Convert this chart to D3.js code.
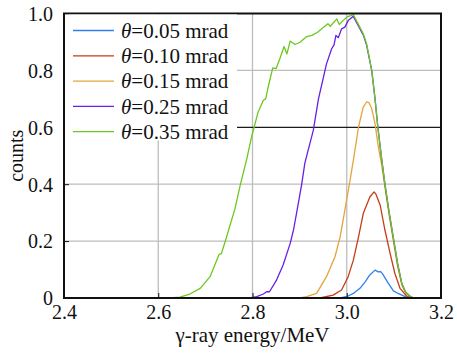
<!DOCTYPE html>
<html>
<head>
<meta charset="utf-8">
<script src="https://cdn.jsdelivr.net/npm/d3@7"></script>
<style>
  body { margin: 0; background: #fff; }
  svg { display: block; }
</style>
</head>
<body>
<div></div>
<script>
// Data: [energy MeV, counts]
var theta05 = [[2.600,0],[2.986,0],[3.003,0.007],[3.014,0.016],[3.028,0.034],[3.039,0.057],[3.049,0.081],
  [3.060,0.098],[3.067,0.092],[3.072,0.093],[3.076,0.085],[3.088,0.052],[3.099,0.025],[3.109,0.016],
  [3.124,0.005],[3.134,0],[3.150,0]];
var theta10 = [[2.600,0],[2.943,0],[2.971,0.010],[2.989,0.028],[3.003,0.075],[3.014,0.133],[3.025,0.215],
  [3.035,0.297],[3.042,0.326],[3.049,0.355],[3.058,0.373],[3.062,0.365],[3.071,0.326],[3.081,0.239],
  [3.092,0.157],[3.102,0.087],[3.113,0.034],[3.127,0.007],[3.138,0],[3.150,0]];
var theta15 = [[2.600,0],[2.900,0],[2.915,0.005],[2.936,0.016],[2.957,0.075],[2.975,0.145],[2.986,0.215],
  [2.996,0.309],[3.007,0.414],[3.014,0.484],[3.025,0.601],[3.035,0.671],[3.042,0.689],[3.047,0.687],
  [3.053,0.666],[3.060,0.613],[3.067,0.531],[3.074,0.47],[3.081,0.39],[3.090,0.29],[3.100,0.19],
  [3.108,0.11],[3.117,0.045],[3.125,0.018],[3.135,0.004],[3.142,0],[3.150,0]];
var theta25 = [[2.600,0],[2.795,0],[2.809,0.005],[2.823,0.014],[2.830,0.022],[2.836,0.022],[2.851,0.063],
  [2.865,0.116],[2.880,0.192],[2.887,0.239],[2.894,0.303],[2.904,0.396],[2.911,0.473],[2.918,0.519],
  [2.929,0.589],[2.940,0.700],[2.957,0.823],[2.968,0.876],[2.973,0.890],[2.977,0.923],[2.982,0.915],
  [2.989,0.946],[2.996,0.952],[3.003,0.975],[3.014,0.990],[3.035,0.925],[3.042,0.89],[3.053,0.80],
  [3.060,0.70],[3.066,0.60],[3.074,0.49],[3.081,0.40],[3.090,0.30],[3.100,0.20],[3.108,0.12],
  [3.117,0.05],[3.125,0.02],[3.135,0.005],[3.142,0],[3.150,0]];
var theta35 = [[2.600,0],[2.625,0],[2.646,0.003],[2.667,0.014],[2.689,0.034],[2.710,0.075],[2.720,0.116],
  [2.729,0.153],[2.734,0.156],[2.744,0.209],[2.763,0.315],[2.773,0.390],[2.788,0.490],[2.798,0.566],
  [2.812,0.654],[2.823,0.695],[2.828,0.700],[2.834,0.747],[2.843,0.809],[2.850,0.806],[2.858,0.841],
  [2.867,0.884],[2.873,0.858],[2.880,0.903],[2.890,0.891],[2.901,0.899],[2.915,0.919],[2.926,0.923],
  [2.938,0.934],[2.947,0.946],[2.960,0.964],[2.965,0.955],[2.979,0.981],[2.984,0.961],[2.992,0.975],
  [3.000,0.987],[3.014,0.996],[3.035,0.929],[3.042,0.894],[3.053,0.800],[3.060,0.70],[3.066,0.60],
  [3.074,0.49],[3.081,0.40],[3.090,0.30],[3.100,0.20],[3.108,0.12],[3.117,0.05],[3.125,0.02],
  [3.135,0.005],[3.142,0],[3.150,0]];

var seriesData = [theta05, theta10, theta15, theta25, theta35];
var seriesNames = ["0.05", "0.10", "0.15", "0.25", "0.35"];
var seriesColors = ["#2f80ea", "#c53d16", "#e3a43c", "#6620e6", "#6cc820"];

var xTicks = [2.4, 2.6, 2.8, 3.0, 3.2];
var yTicks = [0, 0.2, 0.4, 0.6, 0.8, 1.0];

let width = 457;
let height = 353;
let padLeft = 64, padRight = 441, padTop = 13.5, padBottom = 298;
let serif = "'Liberation Serif', 'Times New Roman', serif";

let svg = d3.select("div").append("svg")
  .attr("width", width)
  .attr("height", height)
  .attr("font-family", serif);

let x = d3.scaleLinear().domain([2.4, 3.2]).range([padLeft, padRight]);
let y = d3.scaleLinear().domain([0, 1]).range([padBottom, padTop]);

// Grid lines
svg.append("g").selectAll("line")
  .data(xTicks.slice(1, -1))
  .join("line")
  .attr("x1", d => x(d)).attr("x2", d => x(d))
  .attr("y1", padTop).attr("y2", padBottom)
  .attr("stroke", "#bdbdbd").attr("stroke-width", 1.3);

svg.append("g").selectAll("line")
  .data(yTicks.slice(1, -1))
  .join("line")
  .attr("x1", padLeft).attr("x2", padRight)
  .attr("y1", d => y(d)).attr("y2", d => y(d))
  .attr("stroke", d => d == 0.6 ? "#1a1a1a" : "#bdbdbd")
  .attr("stroke-width", 1.3);

// Curves
let line = d3.line().x(d => x(d[0])).y(d => y(d[1]));

svg.append("g").selectAll("path")
  .data(seriesData)
  .join("path")
  .attr("d", line)
  .attr("fill", "none")
  .attr("stroke", (d, i) => seriesColors[i])
  .attr("stroke-width", 1.3)
  .attr("stroke-linejoin", "round");

// Axes (inward ticks)
let xAxis = d3.axisBottom(x).tickValues(xTicks).tickFormat(d3.format(".1f"))
  .tickSizeInner(-5).tickSizeOuter(0).tickPadding(9);
let yAxis = d3.axisLeft(y).tickValues(yTicks).tickFormat(d => d == 0 ? "0" : d3.format(".1f")(d))
  .tickSizeInner(-5).tickSizeOuter(0).tickPadding(11);

let gx = svg.append("g")
  .attr("transform", "translate(0," + padBottom + ")")
  .call(xAxis)
  .attr("font-family", serif);
gx.select(".domain").remove();
gx.selectAll("text").style("font-family", serif).style("font-size", "20px")
  .attr("fill", "#111").attr("dy", "0.6em");

let gy = svg.append("g")
  .attr("transform", "translate(" + padLeft + ",0)")
  .call(yAxis)
  .attr("font-family", serif);
gy.select(".domain").remove();
gy.selectAll("text").style("font-family", serif).style("font-size", "20px")
  .attr("fill", "#111").attr("dy", "0.34em");
gy.selectAll(".tick line").attr("stroke", "#111");
gx.selectAll(".tick line").attr("stroke", "#111");

// Frame
svg.append("rect")
  .attr("x", padLeft).attr("y", padTop)
  .attr("width", padRight - padLeft).attr("height", padBottom - padTop)
  .attr("fill", "none").attr("stroke", "#111").attr("stroke-width", 2);

// Legend
let legend = svg.append("g");
legend.append("rect")
  .attr("x", padLeft + 1).attr("y", padTop + 1)
  .attr("width", 172).attr("height", 126)
  .attr("fill", "#fff");

let rows = legend.selectAll("g.row")
  .data(seriesNames)
  .join("g")
  .attr("class", "row")
  .attr("transform", (d, i) => "translate(0," + (30.5 + i * 25.3) + ")");

rows.append("line")
  .attr("x1", 73).attr("x2", 114)
  .attr("stroke", (d, i) => seriesColors[i])
  .attr("stroke-width", 1.3);

let lt = rows.append("text")
  .attr("x", 121).attr("dy", "0.34em")
  .style("font-size", "21px")
  .attr("fill", "#111");
lt.append("tspan").style("font-style", "italic").text("θ");
lt.append("tspan").text(d => "=" + d + " mrad");

// Axis titles
svg.append("text")
  .attr("x", (padLeft + padRight) / 2).attr("y", 342)
  .attr("text-anchor", "middle")
  .style("font-size", "21px")
  .attr("fill", "#111")
  .text("γ-ray energy/MeV");

svg.append("text")
  .attr("transform", "translate(22.5," + ((padTop + padBottom) / 2) + ") rotate(-90)")
  .attr("text-anchor", "middle")
  .style("font-size", "20px")
  .attr("fill", "#111")
  .text("counts");
</script>
</body>
</html>
